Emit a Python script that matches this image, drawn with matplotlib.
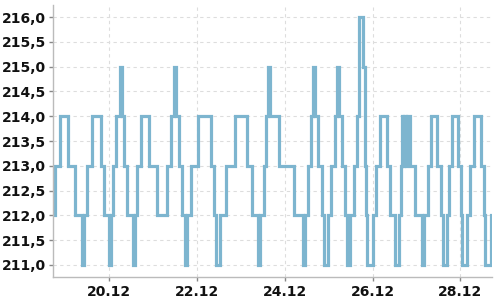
import matplotlib
matplotlib.use("Agg")
import matplotlib.pyplot as plt
import matplotlib.dates as mdates
from matplotlib.ticker import MultipleLocator, FuncFormatter
import pandas as pd

START = pd.Timestamp("2023-12-18 17:15")

# change points: hours after START, and the level that holds from then on
hours = [
    0.0, 0.9, 3.8, 8.3, 12.0, 16.0, 17.0, 18.4, 21.1, 26.0,
    28.0, 30.5, 31.5, 32.9, 34.4, 36.5, 37.5, 38.7, 40.5, 43.6,
    44.6, 46.0, 48.2, 52.7, 56.9, 62.3, 64.5, 66.4, 67.4, 69.1,
    70.5, 72.4, 73.4, 75.4, 79.5, 86.6, 88.0, 89.2, 91.1, 94.4,
    99.3, 106.2, 108.6, 112.2, 113.2, 115.3, 116.7, 117.6, 118.6, 123.3,
    132.0, 136.9, 137.9, 139.6, 140.9, 142.4, 143.4, 145.1, 146.9, 148.3,
    150.1, 152.0, 154.2, 155.2, 156.6, 158.2, 159.8, 160.9, 162.5, 164.6,
    166.4, 167.1, 169.6, 170.6, 171.0, 171.8, 174.9, 176.7, 178.9, 182.6,
    184.0, 186.7, 189.3, 190.4, 190.7, 191.5, 192.0, 192.8, 193.3, 195.3,
    198.0, 202.0, 203.0, 205.1, 206.9, 210.0, 212.2, 213.3, 215.5, 216.6,
    218.4, 221.6, 222.9, 223.8, 226.5, 228.0, 230.2, 233.9, 235.5, 236.2,
    239.3, 240.0,
]
levels = [
    212, 213, 214, 213, 212, 211, 212, 213, 214, 213,
    212, 211, 212, 213, 214, 215, 214, 213, 212, 211,
    212, 213, 214, 213, 212, 213, 214, 215, 214, 213,
    212, 211, 212, 213, 214, 213, 212, 211, 212, 213,
    214, 213, 212, 211, 212, 213, 214, 215, 214, 213,
    212, 211, 212, 213, 214, 215, 214, 213, 212, 211,
    212, 213, 214, 215, 214, 213, 212, 211, 212, 213,
    214, 216, 215, 213, 212, 211, 212, 213, 214, 213,
    212, 211, 212, 213, 214, 213, 214, 213, 214, 213,
    212, 211, 212, 213, 214, 213, 212, 211, 212, 213,
    214, 213, 212, 211, 212, 213, 214, 213, 212, 211,
    212, 212,
]

LINE = "#7db5cf"
GRID = "#dddddd"
SPINE = "#bbbbbb"

times = START + pd.to_timedelta(hours, unit="h")

fig = plt.figure(figsize=(5, 3), dpi=100)
ax = fig.add_axes([0.106, 0.077, 0.878, 0.906])

ax.step(times, levels, where="post", color=LINE, linewidth=2.3,
        solid_joinstyle="miter")

ax.set_xlim(times[0], times[-1])
ax.set_ylim(210.76, 216.24)

ax.yaxis.set_major_locator(MultipleLocator(0.5))
ax.yaxis.set_major_formatter(FuncFormatter(lambda v, _: f"{v:.1f}".replace(".", ",")))
ax.xaxis.set_major_locator(mdates.DayLocator(bymonthday=range(2, 32, 2)))
ax.xaxis.set_major_formatter(mdates.DateFormatter("%d.%m"))

ax.grid(True, color=GRID, linestyle=(0, (3, 3)), linewidth=0.8)
ax.set_axisbelow(True)
for side in ("top", "right"):
    ax.spines[side].set_visible(False)
for side in ("left", "bottom"):
    ax.spines[side].set_color(SPINE)
    ax.spines[side].set_linewidth(1.0)

ax.tick_params(axis="both", length=3, width=1, color="#888888",
               labelsize=10, labelcolor="#111111")
ax.tick_params(axis="y", pad=2)
ax.tick_params(axis="x", pad=2.5)
for lab in ax.get_xticklabels() + ax.get_yticklabels():
    lab.set_fontweight("bold")

fig.savefig("out.png", dpi=100)
